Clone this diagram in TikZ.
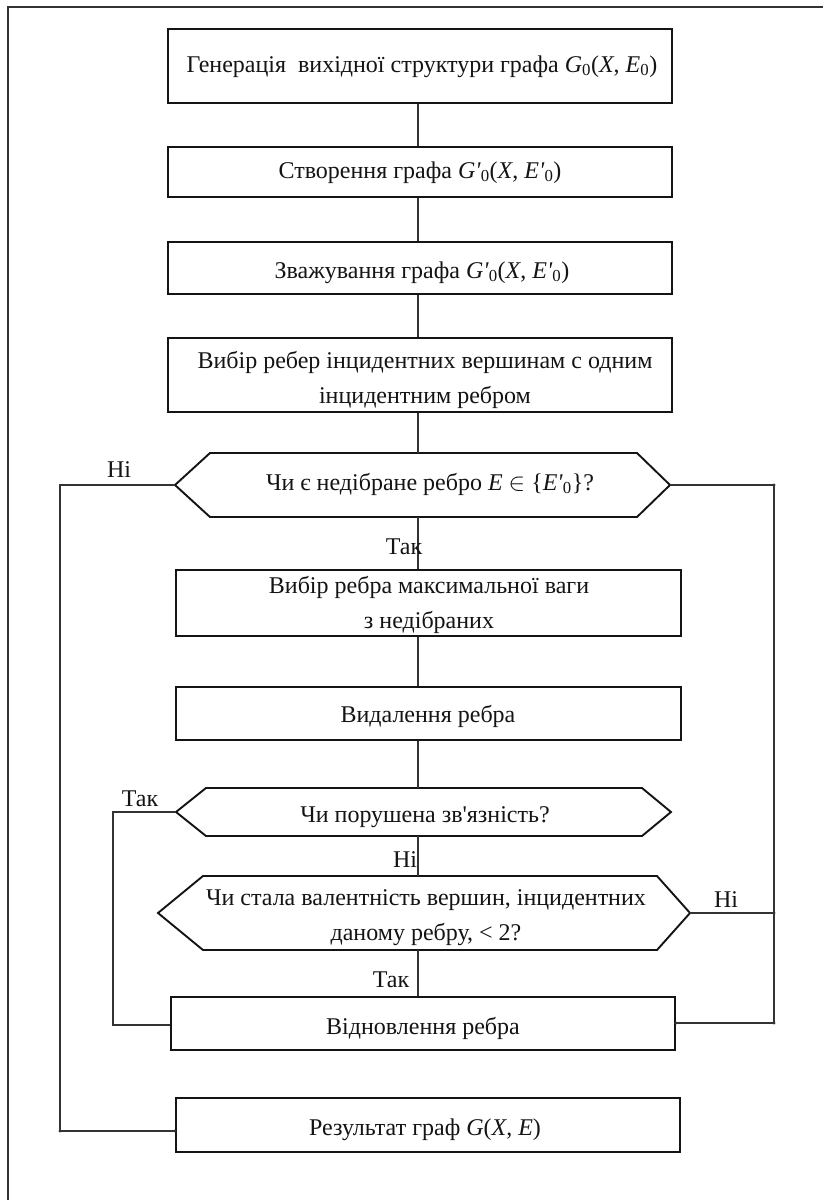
\documentclass[tikz,border=0pt]{standalone}
\usepackage{fontspec}
\setmainfont{Liberation Serif}[Ligatures=TeXOff]
\definecolor{ink}{HTML}{141414}
\definecolor{rule}{HTML}{333333}
\begin{document}
\begin{tikzpicture}[x=1pt,y=-1pt]
\tikzset{
  blk/.style={draw=ink, line width=1.9pt, minimum width=504pt, inner sep=0pt},
  lbl/.style={inner sep=0pt, align=center, text=ink, font=\fontsize{24}{35}\selectfont},
  hexline/.style={draw=ink, line width=1.9pt, line join=miter},
  wire/.style={draw=rule, line width=1.1pt},
  jdot/.style={fill=rule},
  frameline/.style={draw=rule, line width=1.4pt}
}
% page area and frame
\fill[white] (0,0) rectangle (823,1200);
\useasboundingbox (0,0) rectangle (823,1200);
\draw[frameline] (823,7) -- (8,7) -- (8,1200);

% spine of the flowchart
\coordinate (sp) at (418,0);

% process blocks
\node[blk, minimum height=74pt] (b1) at (420,66) {};
\node[blk, minimum height=50pt] (b2) at (420,172) {};
\node[blk, minimum height=52pt] (b3) at (420,268) {};
\node[blk, minimum height=74pt] (b4) at (420,375) {};
\node[blk, minimum width=505pt, minimum height=66pt] (b5) at (428.5,603) {};
\node[blk, minimum width=505pt, minimum height=53pt] (b6) at (428.5,713.5) {};
\node[blk, minimum height=53pt] (b7) at (423,1023.5) {};
\node[blk, minimum height=54pt] (b8) at (428,1125) {};

% block captions
\node[lbl, anchor=base] (t1) at (422,72)
  {Генерація\ \ вихідної структури графа \textit{G}\textsubscript{0}(\textit{X}, \textit{E}\textsubscript{0})};
\node[lbl, anchor=base] (t2) at (420,178)
  {Створення графа \textit{G'}\textsubscript{0}(\textit{X}, \textit{E'}\textsubscript{0})};
\node[lbl, anchor=base] (t3) at (422,278)
  {Зважування графа \textit{G'}\textsubscript{0}(\textit{X}, \textit{E'}\textsubscript{0})};
\node[lbl] (t4) at (425,380)
  {Вибір ребер інцидентних вершинам с одним\\інцидентним ребром};
\node[lbl] (t5) at (429,605)
  {Вибір ребра максимальної ваги\\з недібраних};
\node[lbl, anchor=base] (t6) at (428,722) {Видалення ребра};
\node[lbl, anchor=base] (t7) at (423,1034) {Відновлення ребра};
\node[lbl, anchor=base] (t8) at (425,1135) {Результат граф \textit{G}(\textit{X}, \textit{E})};

% decision hexagons
\coordinate (h1w) at (175,485); \coordinate (h1e) at (670,485);
\coordinate (h1n) at (418,453); \coordinate (h1s) at (418,517);
\draw[hexline] (h1w) -- (210,453) -- (637,453) -- (h1e) -- (637,517) -- (210,517) -- cycle;
\node[lbl, anchor=base] (h1) at (430,490)
  {Чи є недібране ребро \textit{E} $\in$ \{\textit{E'}\textsubscript{0}\}?};

\coordinate (h2w) at (176,812); \coordinate (h2e) at (671,812);
\coordinate (h2n) at (418,788); \coordinate (h2s) at (418,836);
\draw[hexline] (h2w) -- (206,788) -- (642,788) -- (h2e) -- (642,836) -- (206,836) -- cycle;
\node[lbl, anchor=base] (h2) at (425,822) {Чи порушена зв'язність?};

\coordinate (h3w) at (158,913); \coordinate (h3e) at (690,913);
\coordinate (h3n) at (418,876); \coordinate (h3s) at (418,950);
\draw[hexline] (h3w) -- (203,876) -- (657,876) -- (h3e) -- (657,950) -- (203,950) -- cycle;
\node[lbl] (h3) at (426,918)
  {Чи стала валентність вершин, інцидентних\\даному ребру, < 2?};

% main vertical flow
\draw[wire] (b1.south -| sp) -- (b2.north -| sp);
\draw[wire] (b2.south -| sp) -- (b3.north -| sp);
\draw[wire] (b3.south -| sp) -- (b4.north -| sp);
\draw[wire] (b4.south -| sp) -- (h1n);
\draw[wire] (h1s) -- (b5.north -| sp);
\draw[wire] (b5.south -| sp) -- (b6.north -| sp);
\draw[wire] (b6.south -| sp) -- (h2n);
\draw[wire] (h2s) -- (h3n);
\draw[wire] (h3s) -- (b7.north -| sp);

% branch returns
\coordinate (l1) at (60,485);  \coordinate (l2) at (60,1131);
\coordinate (r1) at (774,485); \coordinate (r2) at (774,1023);
\coordinate (m1) at (113,812); \coordinate (m2) at (113,1025);
\draw[wire] (h1w) -- (l1) -- (l2) -- (l2 -| b8.west);
\draw[wire] (h1e) -- (r1) -- (r2) -- (r2 -| b7.east);
\draw[wire] (h3e) -- (h3e -| r1);
\draw[wire] (h2w) -- (m1) -- (m2) -- (m2 -| b7.west);
\foreach \p in {(l2), (l2 -| b8.west), (r1), (r2), (h3e -| r1), (r2 -| b7.east)}
  \fill[jdot] \p circle (1.7pt);

% branch labels
\node[lbl, anchor=base] (n1) at (119,477) {Ні};
\node[lbl, anchor=base] (y1) at (404,554) {Так};
\node[lbl, anchor=base] (y2) at (140,806) {Так};
\node[lbl, anchor=base] (n2) at (405,867) {Ні};
\node[lbl, anchor=base] (n3) at (726,907) {Ні};
\node[lbl, anchor=base] (y3) at (391,987) {Так};
\end{tikzpicture}
\end{document}
